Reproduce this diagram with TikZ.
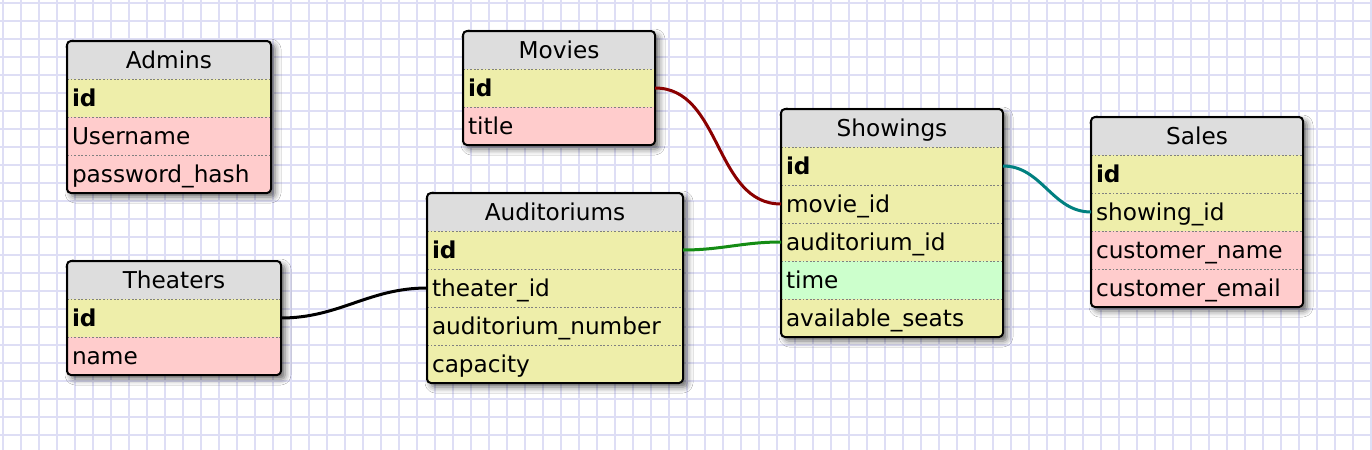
\documentclass[tikz,border=0pt]{standalone}
\usepackage{fontspec}
\setmainfont{DejaVu Sans}
\usetikzlibrary{positioning,backgrounds,shadows.blur}

\definecolor{gridblue}{RGB}{222,222,245}
\definecolor{headgray}{RGB}{221,221,221}
\definecolor{keyyellow}{RGB}{238,238,170}
\definecolor{textpink}{RGB}{255,204,204}
\definecolor{timegreen}{RGB}{204,255,204}
\definecolor{linkred}{RGB}{139,0,0}
\definecolor{linkgreen}{RGB}{20,140,20}
\definecolor{linkteal}{RGB}{0,128,128}

\begin{document}
\begin{tikzpicture}[x=0.5pt, y=-0.5pt, node distance=0pt,
  every node/.style={font=\fontsize{11.6}{13.5}\selectfont},
  cell/.style={text width=#1, inner xsep=2.5pt, inner ysep=0pt, outer sep=0pt, minimum height=19pt, text height=8.5pt, text depth=0pt},
  headcell/.style={cell=#1, align=center, fill=headgray},
  fieldcell/.style={cell=#1, align=left, path picture={\draw[sepline] (path picture bounding box.north west) -- (path picture bounding box.north east);}},
  sepline/.style={draw=black!50, line width=1.2pt, dash pattern=on 0.9pt off 0.9pt},
  keyrow/.style={fill=keyyellow},
  textrow/.style={fill=textpink},
  timerow/.style={fill=timegreen},
  gridline/.style={draw=gridblue, line width=1pt},
  tableframe/.style={draw=black, line width=1pt, rounded corners=2pt},
  tableshadow/.style={fill=white, rounded corners=2pt, blur shadow={shadow xshift=2pt, shadow yshift=-2pt, shadow blur radius=3pt, shadow opacity=60}},
  link/.style={line width=1.5pt}]
\useasboundingbox (0,0) rectangle (1372,450);
\begin{scope}[on background layer]
\fill[white] (0,0) rectangle (1372,450);
\foreach \gx in {3,21,...,1371} \draw[gridline] (\gx,0) -- (\gx,450);
\foreach \gy in {3,21,...,447} \draw[gridline] (0,\gy) -- (1372,\gy);
\end{scope}

% Admins
\node[headcell=97pt, anchor=north west] (admins0) at (67,41) {Admins};
\node[fieldcell=97pt, keyrow, below=of admins0] (admins1) {\textbf{id}};
\node[fieldcell=97pt, textrow, below=of admins1] (admins2) {Username};
\node[fieldcell=97pt, textrow, below=of admins2] (admins3) {password\_hash};
\draw[tableframe] (admins0.north west) rectangle (admins3.south east);

% Theaters
\node[headcell=102pt, anchor=north west] (theaters0) at (67,261) {Theaters};
\node[fieldcell=102pt, keyrow, below=of theaters0] (theaters1) {\textbf{id}};
\node[fieldcell=102pt, textrow, below=of theaters1] (theaters2) {name};
\draw[tableframe] (theaters0.north west) rectangle (theaters2.south east);

% Movies
\node[headcell=91pt, anchor=north west] (movies0) at (463,31) {Movies};
\node[fieldcell=91pt, keyrow, below=of movies0] (movies1) {\textbf{id}};
\node[fieldcell=91pt, textrow, below=of movies1] (movies2) {title};
\draw[tableframe] (movies0.north west) rectangle (movies2.south east);

% Auditoriums
\node[headcell=123pt, anchor=north west] (auditoriums0) at (427,193) {Auditoriums};
\node[fieldcell=123pt, keyrow, below=of auditoriums0] (auditoriums1) {\textbf{id}};
\node[fieldcell=123pt, keyrow, below=of auditoriums1] (auditoriums2) {theater\_id};
\node[fieldcell=123pt, keyrow, below=of auditoriums2] (auditoriums3) {auditorium\_number};
\node[fieldcell=123pt, keyrow, below=of auditoriums3] (auditoriums4) {capacity};
\draw[tableframe] (auditoriums0.north west) rectangle (auditoriums4.south east);

% Showings
\node[headcell=106pt, anchor=north west] (showings0) at (781,109) {Showings};
\node[fieldcell=106pt, keyrow, below=of showings0] (showings1) {\textbf{id}};
\node[fieldcell=106pt, keyrow, below=of showings1] (showings2) {movie\_id};
\node[fieldcell=106pt, keyrow, below=of showings2] (showings3) {auditorium\_id};
\node[fieldcell=106pt, timerow, below=of showings3] (showings4) {time};
\node[fieldcell=106pt, keyrow, below=of showings4] (showings5) {available\_seats};
\draw[tableframe] (showings0.north west) rectangle (showings5.south east);

% Sales
\node[headcell=101pt, anchor=north west] (sales0) at (1091,117) {Sales};
\node[fieldcell=101pt, keyrow, below=of sales0] (sales1) {\textbf{id}};
\node[fieldcell=101pt, keyrow, below=of sales1] (sales2) {showing\_id};
\node[fieldcell=101pt, textrow, below=of sales2] (sales3) {customer\_name};
\node[fieldcell=101pt, textrow, below=of sales3] (sales4) {customer\_email};
\draw[tableframe] (sales0.north west) rectangle (sales4.south east);

% shadows under the tables
\begin{scope}[on background layer]
\fill[tableshadow] (admins0.north west) rectangle (admins3.south east);
\fill[tableshadow] (theaters0.north west) rectangle (theaters2.south east);
\fill[tableshadow] (movies0.north west) rectangle (movies2.south east);
\fill[tableshadow] (auditoriums0.north west) rectangle (auditoriums4.south east);
\fill[tableshadow] (showings0.north west) rectangle (showings5.south east);
\fill[tableshadow] (sales0.north west) rectangle (sales4.south east);
\end{scope}

% links
\draw[link, draw=linkred] (movies1.east) to[out=0, in=180] (showings2.west);
\draw[link, draw=linkgreen] (auditoriums1.east) to[out=0, in=180] (showings3.west);
\draw[link, draw=linkteal] (showings1.east) to[out=0, in=180] (sales2.west);
\draw[link, draw=black] (theaters1.east) to[out=0, in=180] (auditoriums2.west);
\end{tikzpicture}
\end{document}
